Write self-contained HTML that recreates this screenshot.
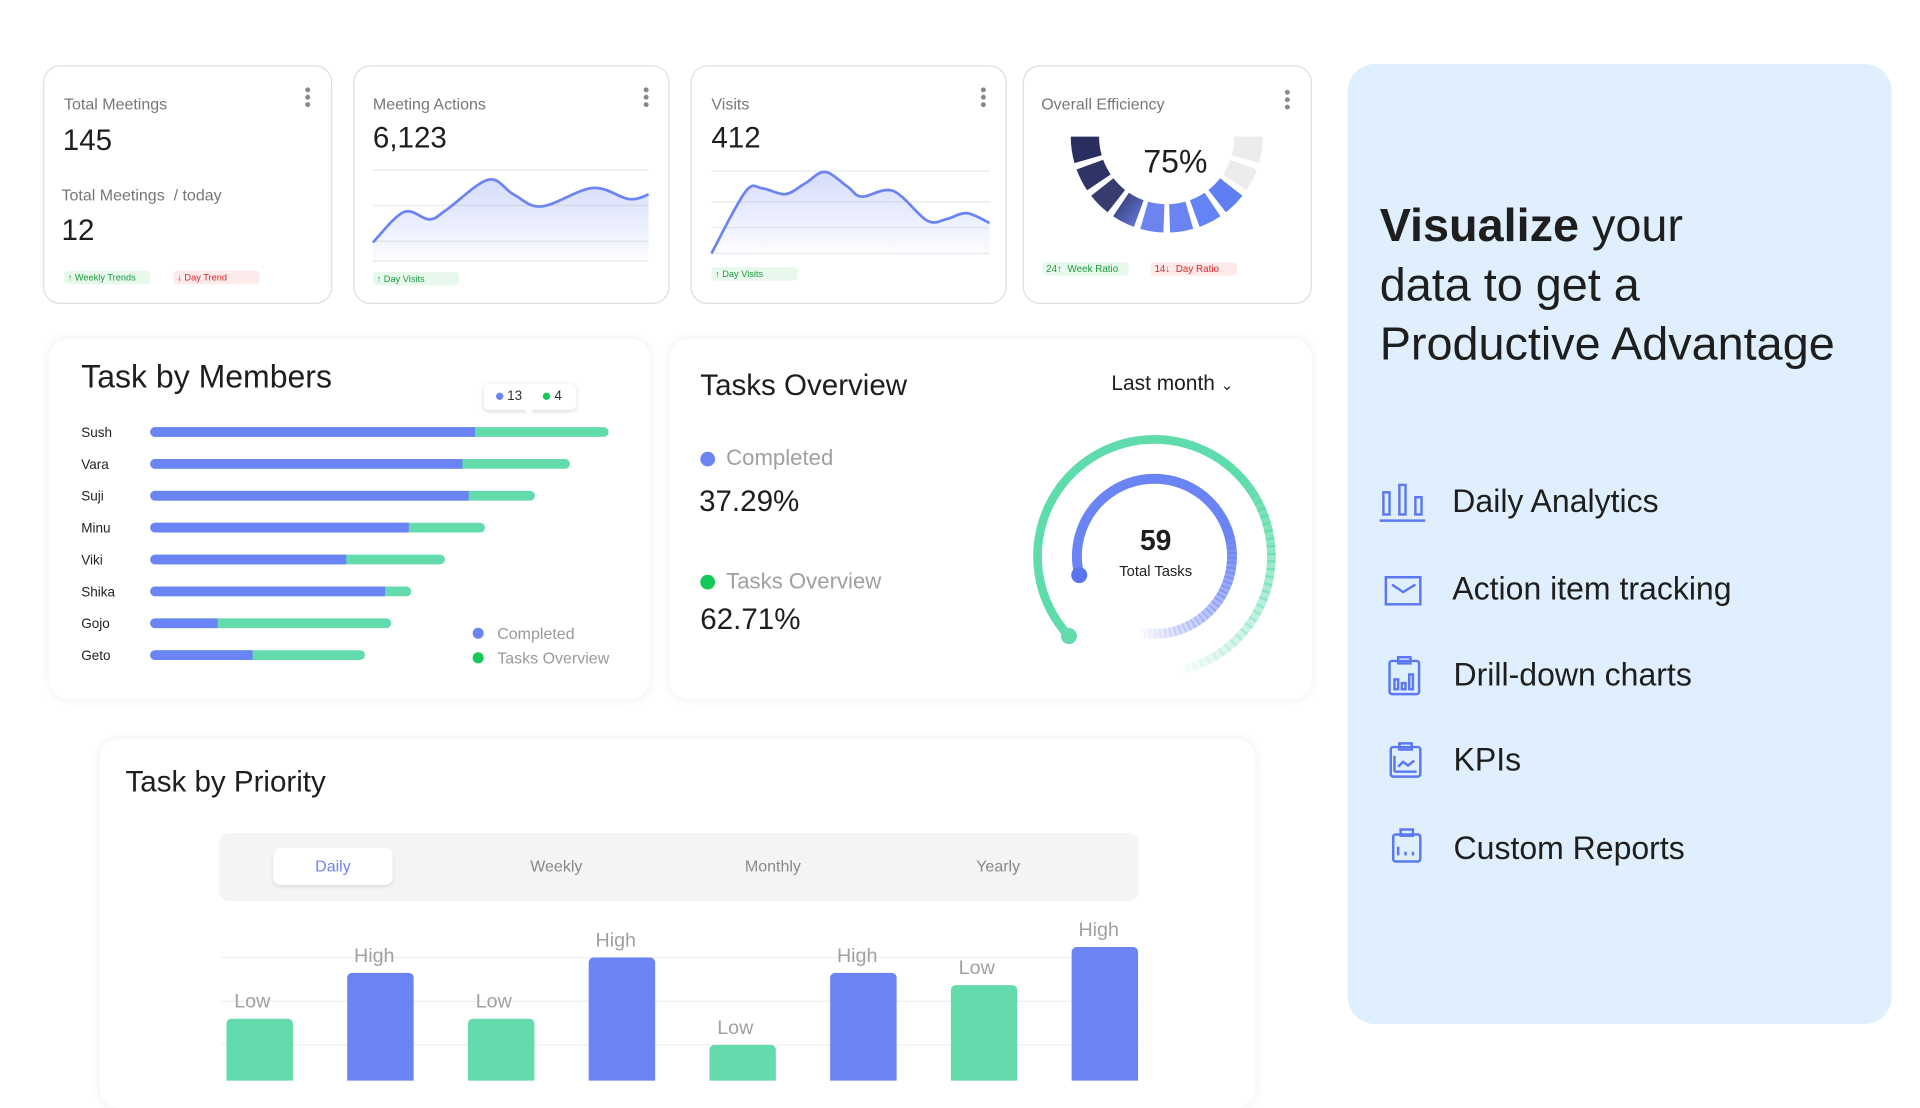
<!DOCTYPE html>
<html><head><meta charset="utf-8">
<style>
html,body{margin:0;padding:0;background:#fff;}
body{width:1920px;height:1080px;overflow:hidden;font-family:"Liberation Sans",sans-serif;}
#root{position:absolute;left:0;top:0;width:1560px;height:878px;transform:scale(1.230769);transform-origin:0 0;}
.card{position:absolute;background:#fff;border:1px solid #dedede;border-radius:14px;box-sizing:border-box;}
.soft{position:absolute;background:#fff;border-radius:16px;box-shadow:0 0 8px rgba(0,0,0,0.07);}
.abs{position:absolute;white-space:nowrap;}
.lbl{font-size:13px;color:#777;}
.big{font-size:24px;color:#1e1e1e;}
.kebab{position:absolute;width:4px;}
.kebab i{display:block;width:4px;height:4px;border-radius:2px;background:#888;margin-bottom:2px;}
.badge{position:absolute;height:11px;border-radius:3px;font-size:7.5px;line-height:11px;padding-left:3px;box-sizing:border-box;}
.g{background:#e8f8ed;color:#1b9a3c;}
.r{background:#fdeaea;color:#e0252a;}
.feat{position:absolute;left:1180px;font-size:26px;color:#1e1e1e;}
#overlay,#prioSvg{z-index:5;pointer-events:none;}
</style></head>
<body>
<div id="root">

<div class="card" style="left:35px;top:53px;width:235px;height:194px">
  <div class="kebab" style="left:212px;top:17px"><i></i><i></i><i></i></div>
  <div class="abs lbl" style="left:16px;top:23px">Total Meetings</div>
  <div class="abs big" style="left:15px;top:47px">145</div>
  <div class="abs lbl" style="left:14px;top:97px">Total Meetings &nbsp;/ today</div>
  <div class="abs big" style="left:14px;top:120px">12</div>
  <div class="badge g" style="left:16px;top:166px;width:70px">↑ Weekly Trends</div>
  <div class="badge r" style="left:105px;top:166px;width:70px">↓ Day Trend</div>
</div>

<div class="card" style="left:287px;top:53px;width:257px;height:194px">
  <div class="kebab" style="left:235px;top:17px"><i></i><i></i><i></i></div>
  <div class="abs lbl" style="left:15px;top:23px">Meeting Actions</div>
  <div class="abs big" style="left:15px;top:45px">6,123</div>
  <div class="badge g" style="left:15px;top:167px;width:70px">↑ Day Visits</div>
</div>

<div class="card" style="left:561px;top:53px;width:257px;height:194px">
  <div class="kebab" style="left:235px;top:17px"><i></i><i></i><i></i></div>
  <div class="abs lbl" style="left:16px;top:23px">Visits</div>
  <div class="abs big" style="left:16px;top:45px">412</div>
  <div class="badge g" style="left:16px;top:163px;width:70px">↑ Day Visits</div>
</div>

<div class="card" style="left:831px;top:53px;width:235px;height:194px">
  <div class="kebab" style="left:212px;top:19px"><i></i><i></i><i></i></div>
  <div class="abs lbl" style="left:14px;top:23px">Overall Efficiency</div>
  <div class="badge g" style="left:15px;top:159px;width:70px;font-size:8px">24↑ &nbsp;Week Ratio</div>
  <div class="badge r" style="left:103px;top:159px;width:70px;font-size:8px">14↓ &nbsp;Day Ratio</div>
</div>

<div class="soft" style="left:40px;top:275px;width:488px;height:293px">
  <div class="abs" style="left:26px;top:16px;font-size:26px;color:#1e1e1e">Task by Members</div>
  <div class="abs" style="left:353px;top:37px;width:75px;height:21px;background:#fff;border-radius:4px;box-shadow:0 1px 4px rgba(0,0,0,0.15);font-size:11px;line-height:21px;color:#333">
    <span style="display:inline-block;width:6px;height:6px;border-radius:3px;background:#6b84f3;margin-left:10px"></span> 13
    <span style="display:inline-block;width:6px;height:6px;border-radius:3px;background:#14c95a;margin-left:14px"></span> 4
  </div>
  <div class="abs" style="left:385px;top:56px;width:0;height:0;border-left:5px solid transparent;border-right:5px solid transparent;border-top:6px solid #fff"></div>
  <div class="abs" style="left:344px;top:235px;width:9px;height:9px;border-radius:5px;background:#6b84f3"></div>
  <div class="abs" style="left:364px;top:232px;font-size:13px;color:#999">Completed</div>
  <div class="abs" style="left:344px;top:255px;width:9px;height:9px;border-radius:5px;background:#14c95a"></div>
  <div class="abs" style="left:364px;top:252px;font-size:13px;color:#999">Tasks Overview</div>
</div>

<div class="soft" style="left:544px;top:275px;width:522px;height:293px">
  <div class="abs" style="left:25px;top:25px;font-size:24px;color:#1e1e1e">Tasks Overview</div>
  <div class="abs" style="left:359px;top:27px;font-size:17px;color:#1e1e1e">Last month <span style="font-size:12px">⌄</span></div>
  <div class="abs" style="left:25px;top:92px;width:12px;height:12px;border-radius:6px;background:#6b84f3"></div>
  <div class="abs" style="left:46px;top:87px;font-size:18px;color:#a0a0a0">Completed</div>
  <div class="abs" style="left:24px;top:119px;font-size:24px;color:#1e1e1e">37.29%</div>
  <div class="abs" style="left:25px;top:192px;width:12px;height:12px;border-radius:6px;background:#14c95a"></div>
  <div class="abs" style="left:46px;top:187px;font-size:18px;color:#a0a0a0">Tasks Overview</div>
  <div class="abs" style="left:25px;top:215px;font-size:24px;color:#1e1e1e">62.71%</div>
  <div class="abs" style="left:370px;top:151px;width:50px;text-align:center;font-size:23px;font-weight:bold;color:#1e1e1e">59</div>
  <div class="abs" style="left:355px;top:182px;width:80px;text-align:center;font-size:12px;color:#1e1e1e">Total Tasks</div>
</div>

<div class="soft" style="left:81px;top:600px;width:939px;height:300px">
  <div class="abs" style="left:21px;top:22px;font-size:24px;color:#1e1e1e">Task by Priority</div>
  <div class="abs" style="left:97px;top:77px;width:747px;height:55px;background:#f4f4f4;border-radius:8px">
    <div class="abs" style="left:44px;top:12px;width:97px;height:30px;background:#fff;border-radius:6px;box-shadow:0 2px 3px rgba(0,0,0,0.08);text-align:center;line-height:30px;font-size:13px;color:#6b84f3">Daily</div>
    <div class="abs" style="left:234px;top:12px;width:80px;text-align:center;line-height:30px;font-size:13px;color:#888">Weekly</div>
    <div class="abs" style="left:410px;top:12px;width:80px;text-align:center;line-height:30px;font-size:13px;color:#888">Monthly</div>
    <div class="abs" style="left:593px;top:12px;width:80px;text-align:center;line-height:30px;font-size:13px;color:#888">Yearly</div>
  </div>
</div>

<svg id="overlay" class="abs" style="left:0;top:0" width="1560" height="878">
  <defs>
    <linearGradient id="areaFill" x1="0" y1="0" x2="0" y2="1">
      <stop offset="0" stop-color="#6b84f3" stop-opacity="0.28"/>
      <stop offset="1" stop-color="#6b84f3" stop-opacity="0.02"/>
    </linearGradient>
    <linearGradient id="segGrad" x1="0" y1="0" x2="1" y2="1">
      <stop offset="0" stop-color="#2d3263"/>
      <stop offset="1" stop-color="#6b7fe8"/>
    </linearGradient>
  </defs>
</svg>
<svg id="prioSvg" class="abs" style="left:0;top:0" width="1560" height="878"></svg>

<div class="abs" style="left:1095px;top:52px;width:442px;height:780px;background:#dfeffd;border-radius:22px;white-space:normal">
  <div class="abs" style="left:26px;top:108px;font-size:38px;line-height:48px;color:#1e1e1e;white-space:nowrap"><b>Visualize</b> your<br>data to get a<br>Productive Advantage</div>
</div>
<svg class="abs" style="left:1115px;top:385px" width="60" height="330">
  <g fill="none" stroke="#5b78f0" stroke-width="2">
    <rect x="9" y="15" width="5" height="18"/>
    <rect x="22" y="9" width="5" height="24"/>
    <rect x="35" y="19" width="5" height="14"/>
    <line x1="6" y1="38" x2="43" y2="38"/>
    <rect x="11" y="84" width="28" height="22"/>
    <polyline points="16,90 25,96 35,90"/>
    <rect x="14" y="152" width="24" height="27" rx="2"/>
    <rect x="21" y="149" width="10" height="5"/>
    <rect x="18" y="167" width="3" height="8"/><rect x="24" y="170" width="3" height="5"/><rect x="30" y="163" width="3" height="12"/>
    <rect x="15" y="222" width="24" height="24" rx="2"/>
    <rect x="22" y="219" width="10" height="5"/>
    <polyline points="18,242 18,229"/><polyline points="18,242 36,242"/><polyline points="21,238 25,234 29,237 34,233"/>
    <rect x="17" y="293" width="22" height="22" rx="2"/>
    <rect x="23" y="289" width="10" height="5"/>
    <line x1="21" y1="303" x2="21" y2="310"/><line x1="27" y1="307" x2="27" y2="310"/><line x1="33" y1="307" x2="33" y2="310"/>
  </g>
</svg>
<div class="feat" style="top:392px">Daily Analytics</div>
<div class="feat" style="top:463px">Action item tracking</div>
<div class="feat" style="top:533px;left:1181px">Drill-down charts</div>
<div class="feat" style="top:602px;left:1181px">KPIs</div>
<div class="feat" style="top:674px;left:1181px">Custom Reports</div>

</div>

<script>
const meetingX = [0, 11, 20, 26, 41, 50, 60, 78, 91, 98];
const meetingVals = [20, 53, 45, 55, 88, 72, 59, 79, 67, 72];
const visitsX = [0, 12, 18, 26, 33, 40, 48, 53, 64, 76, 83, 90, 98];
const visitsVals = [0, 75, 79, 72, 85, 99, 81, 69, 76, 40, 42, 49, 37];
const memberNames = ["Sush", "Vara", "Suji", "Minu", "Viki", "Shika", "Gojo", "Geto"];
const memberCompleted = [13, 12.5, 12.75, 10.35, 7.85, 9.4, 2.7, 4.1];
const memberOverview = [5.35, 4.3, 2.65, 3.05, 3.95, 1.05, 6.95, 4.5];
const efficiencyPercent = 75;
const efficiencySegments = 10;
const completedShare = 37.29;
const overviewShare = 62.71;
const priorityLabels = ["Low", "High", "Low", "High", "Low", "High", "Low", "High"];
const priorityValues = [16, 26.5, 16, 30, 10, 26.5, 23.7, 32.4];
const priorityTicks = [10, 20, 30];

const NS = "http://www.w3.org/2000/svg";
function mk(parent, tag, attrs) {
  const e = document.createElementNS(NS, tag);
  for (const k in attrs) e.setAttribute(k, attrs[k]);
  parent.appendChild(e);
  return e;
}
function smooth(pts) {
  let d = "M" + pts[0][0] + "," + pts[0][1];
  for (let i = 0; i < pts.length - 1; i++) {
    const p0 = pts[i - 1] || pts[i], p1 = pts[i], p2 = pts[i + 1], p3 = pts[i + 2] || p2;
    const c1x = p1[0] + (p2[0] - p0[0]) / 6, c1y = p1[1] + (p2[1] - p0[1]) / 6;
    const c2x = p2[0] - (p3[0] - p1[0]) / 6, c2y = p2[1] - (p3[1] - p1[1]) / 6;
    d += " C" + c1x + "," + c1y + " " + c2x + "," + c2y + " " + p2[0] + "," + p2[1];
  }
  return d;
}
const ov = document.getElementById("overlay");

function sparkline(xs, vs, left, right, top, bottom, grids, name) {
  const sx = v => left + (v - xs[0]) / (xs[xs.length - 1] - xs[0]) * (right - left);
  const sy = v => bottom - v / 100 * (bottom - top);
  grids.forEach(g => {
    const l = mk(ov, "line", {x1: left, x2: right, y1: g, y2: g, stroke: "#ececec", "stroke-width": 1.2});
    
    
  });
  const pts = xs.map((x, i) => [sx(x), sy(vs[i])]);
  const line = smooth(pts);
  const area = mk(ov, "path", {d: line + " L" + right + "," + bottom + " L" + left + "," + bottom + " Z", fill: "url(#areaFill)"});
  
  
  const p = mk(ov, "path", {d: line, fill: "none", stroke: "#6b84f3", "stroke-width": 2.2});
  
  
}
sparkline(meetingX, meetingVals, 303, 527, 137, 212, [138, 167, 196, 212], "meeting-actions");
sparkline(visitsX, visitsVals, 578, 804, 139, 206, [139, 164, 185, 206], "visits");

(function () {
  const cx = 948, cy = 111, r1 = 55, r2 = 78, n = efficiencySegments;
  const filled = Math.round(efficiencyPercent / 100 * n);
  const colors = ["#2b2f5f", "#2f3466", "#363c70", "url(#segGrad)", "#6d83ee", "#6b84f3", "#6483f5", "#5f7ef2"];
  const step = Math.PI / n, gap = 0.035;
  for (let i = 0; i < n; i++) {
    const a0 = Math.PI - i * step - (i ? gap : 0), a1 = Math.PI - (i + 1) * step + (i < n - 1 ? gap : 0);
    const P = (r, a) => (cx + r * Math.cos(a)) + "," + (cy + r * Math.sin(a));
    const d = "M" + P(r2, a0) + " A" + r2 + "," + r2 + " 0 0,0 " + P(r2, a1) + " L" + P(r1, a1) + " A" + r1 + "," + r1 + " 0 0,1 " + P(r1, a0) + " Z";
    const seg = mk(ov, "path", {d: d, fill: i < filled ? colors[Math.min(i, colors.length - 1)] : "#ececec"});
    
    
  }
  const t = mk(ov, "text", {x: cx + 7, y: cy + 29, "text-anchor": "middle", "font-size": 26, fill: "#1e1e1e", "font-family": "Liberation Sans, sans-serif"});
  t.textContent = efficiencyPercent + "%";
  
  
})();

(function () {
  const left = 122, unit = 20.3, y0 = 351, dy = 25.9;
  memberNames.forEach((nm, i) => {
    const y = y0 + i * dy;
    const t = mk(ov, "text", {x: 66, y: y + 4, "font-size": 11, fill: "#222", "font-family": "Liberation Sans, sans-serif"});
    t.textContent = nm;
    
    
    const tot = (memberCompleted[i] + memberOverview[i]) * unit;
    const g = mk(ov, "rect", {x: left, y: y - 4, width: tot, height: 8, rx: 4, fill: "#63dbac"});
    
    
    const b = mk(ov, "path", {d: "M" + (left + 4) + "," + (y - 4) + " H" + (left + memberCompleted[i] * unit) + " V" + (y + 4) + " H" + (left + 4) + " A4,4 0 0,1 " + (left + 4) + "," + (y - 4) + " Z", fill: "#6b84f3"});
    
    
  });
})();

(function () {
  const cx = 938, cy = 452;
  function fadeArc(r, startDeg, sweep, color, width, name) {
    const N = 80;
    for (let k = 0; k < N; k++) {
      const f = k / N;
      const a0 = (startDeg + sweep * f) * Math.PI / 180, a1 = (startDeg + sweep * (k + 1.3) / N) * Math.PI / 180;
      const op = f < 0.6 ? 1 : Math.max(0, 1 - (f - 0.6) / 0.4);
      const p = mk(ov, "path", {d: "M" + (cx + r * Math.cos(a0)) + "," + (cy + r * Math.sin(a0)) + " A" + r + "," + r + " 0 0,1 " + (cx + r * Math.cos(a1)) + "," + (cy + r * Math.sin(a1)), fill: "none", stroke: color, "stroke-width": width, "stroke-opacity": op});
      
      
    }
  }
  const greenSweep = 300 * overviewShare / 62.71;
  const blueSweep = 294 * completedShare / 37.29;
  fadeArc(95, 137, greenSweep, "#5fdcab", 7, 'overview-ring');
  const gc = mk(ov, "circle", {cx: cx + 95 * Math.cos(137 * Math.PI / 180), cy: cy + 95 * Math.sin(137 * Math.PI / 180), r: 6.5, fill: "#63dbac"});
  
  
  fadeArc(63, 166, blueSweep, "#6b84f3", 8, 'completed-ring');
  const bc = mk(ov, "circle", {cx: cx + 63 * Math.cos(166 * Math.PI / 180), cy: cy + 63 * Math.sin(166 * Math.PI / 180), r: 6.5, fill: "#5a74ee"});
  
  
})();

(function () {
  const ps = document.getElementById("prioSvg");
  const base = 884.5, unitH = 3.55, x0 = 211, dx = 98.1, w = 54;
  const sy = v => base - v * unitH;
  priorityTicks.forEach(t => {
    const l = mk(ps, "line", {x1: 180, x2: 925, y1: sy(t), y2: sy(t), stroke: "#efefef", "stroke-width": 1});
    
    
  });
  priorityValues.forEach((v, i) => {
    const cx = x0 + i * dx, top = sy(v);
    const hi = priorityLabels[i] === "High";
    const r = mk(ps, "rect", {x: cx - w / 2, y: top, width: w, height: base - top + 10, rx: 4, fill: hi ? "#6b84f3" : "#63dbac"});
    
    
    const t = mk(ps, "text", {x: cx - (hi ? 5 : 6), y: top - 9, "text-anchor": "middle", "font-size": 16, fill: "#a0a0a0", "font-family": "Liberation Sans, sans-serif"});
    t.textContent = priorityLabels[i];
    
    
  });
})();
</script>
</body></html>
